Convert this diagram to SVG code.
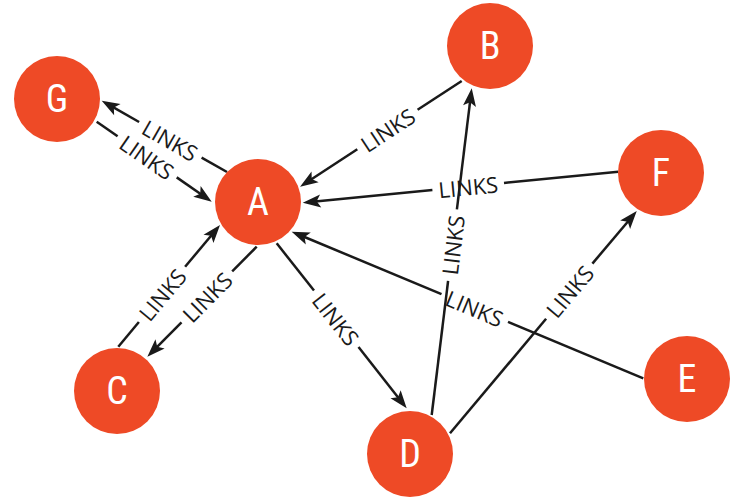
<svg xmlns="http://www.w3.org/2000/svg" width="736" height="499" viewBox="0 0 736 499">
<defs>
<style>
.node circle{fill:#EE4A26}
.node text{fill:#fff;font-family:Roboto,"DejaVu Sans",sans-serif;font-size:38px;text-anchor:middle;dominant-baseline:central;font-stretch:condensed}
.edge path{fill:none;stroke:#1a1a1a;stroke-width:2.5}
.lbl{fill:#1a1a1a;font-family:"Open Sans","DejaVu Sans",sans-serif;font-size:22px;font-weight:400;text-anchor:middle;dominant-baseline:central}
</style>
<marker id="arr" markerUnits="userSpaceOnUse" markerWidth="24" markerHeight="16" viewBox="-10 -8 24 16" refX="0" refY="0" orient="auto">
<path d="M10,0 L-8,-6.5 L-4,0 L-8,6.5 Z" fill="#1a1a1a"/>
</marker>
</defs>
<rect width="736" height="499" fill="#fff"/>
<g id="connectors">
<g class="edge" id="e-A-G">
<path d="M227,172 L201.6,157.6"/>
<path d="M139.1,122 L110.4,105.6" marker-end="url(#arr)"/>
<text class="lbl" transform="translate(170.3,139.8) rotate(29.6)">LINKS</text>
</g>
<g class="edge" id="e-G-A">
<path d="M96.7,121.7 L117.6,136.3"/>
<path d="M176.7,177.4 L203.5,196" marker-end="url(#arr)"/>
<text class="lbl" transform="translate(147.2,156.8) rotate(34.8)">LINKS</text>
</g>
<g class="edge" id="e-B-A">
<path d="M461.7,81 L417.6,109.8"/>
<path d="M357.3,149.2 L308.4,181.2" marker-end="url(#arr)"/>
<text class="lbl" transform="translate(387.5,129.5) rotate(-33.2)">LINKS</text>
</g>
<g class="edge" id="e-D-B">
<path d="M431.7,415 L448.1,280.8"/>
<path d="M456.9,209.3 L470.5,98.2" marker-end="url(#arr)"/>
<text class="lbl" transform="translate(452.5,245.1) rotate(-83)">LINKS</text>
</g>
<g class="edge" id="e-F-A">
<path d="M618.3,171.7 L504,182.9"/>
<path d="M432.4,190 L312.7,201.7" marker-end="url(#arr)"/>
<text class="lbl" transform="translate(468.2,186.4) rotate(-5.6)">LINKS</text>
</g>
<g class="edge" id="e-C-A">
<path d="M118.3,346.7 L138.9,322"/>
<path d="M185.1,266.8 L213.6,232.7" marker-end="url(#arr)"/>
<text class="lbl" transform="translate(162,294.4) rotate(-50.1)">LINKS</text>
</g>
<g class="edge" id="e-A-C">
<path d="M256.7,246.7 L232.2,271.3"/>
<path d="M181.5,322.4 L154.4,349.6" marker-end="url(#arr)"/>
<text class="lbl" transform="translate(206.9,296.8) rotate(-45.2)">LINKS</text>
</g>
<g class="edge" id="e-A-D">
<path d="M276.7,243.3 L314,290.6"/>
<path d="M358.5,347.1 L400.5,400.5" marker-end="url(#arr)"/>
<text class="lbl" transform="translate(336.2,318.8) rotate(51.8)">LINKS</text>
</g>
<g class="edge" id="e-E-A">
<path d="M643.3,378.3 L508,321.9"/>
<path d="M441.5,294.1 L300.9,235.5" marker-end="url(#arr)"/>
<text class="lbl" transform="translate(474.8,308) rotate(22.6)">LINKS</text>
</g>
<g class="edge" id="e-D-F">
<path d="M450,433.3 L546.1,318.8"/>
<path d="M592.4,263.6 L630.3,218.7" marker-end="url(#arr)"/>
<text class="lbl" transform="translate(569.3,291.2) rotate(-50)">LINKS</text>
</g>
</g>
<g class="node" id="G"><circle cx="57" cy="99" r="43"/><text x="57" y="99">G</text></g>
<g class="node" id="A"><circle cx="258" cy="202" r="43"/><text x="258" y="202">A</text></g>
<g class="node" id="B"><circle cx="490" cy="46" r="43"/><text x="490" y="46">B</text></g>
<g class="node" id="F"><circle cx="661" cy="173" r="43"/><text x="661" y="173">F</text></g>
<g class="node" id="C"><circle cx="117" cy="391" r="43"/><text x="117" y="391">C</text></g>
<g class="node" id="E"><circle cx="687" cy="379" r="43"/><text x="687" y="379">E</text></g>
<g class="node" id="D"><circle cx="410" cy="454" r="43"/><text x="410" y="454">D</text></g>
</svg>
